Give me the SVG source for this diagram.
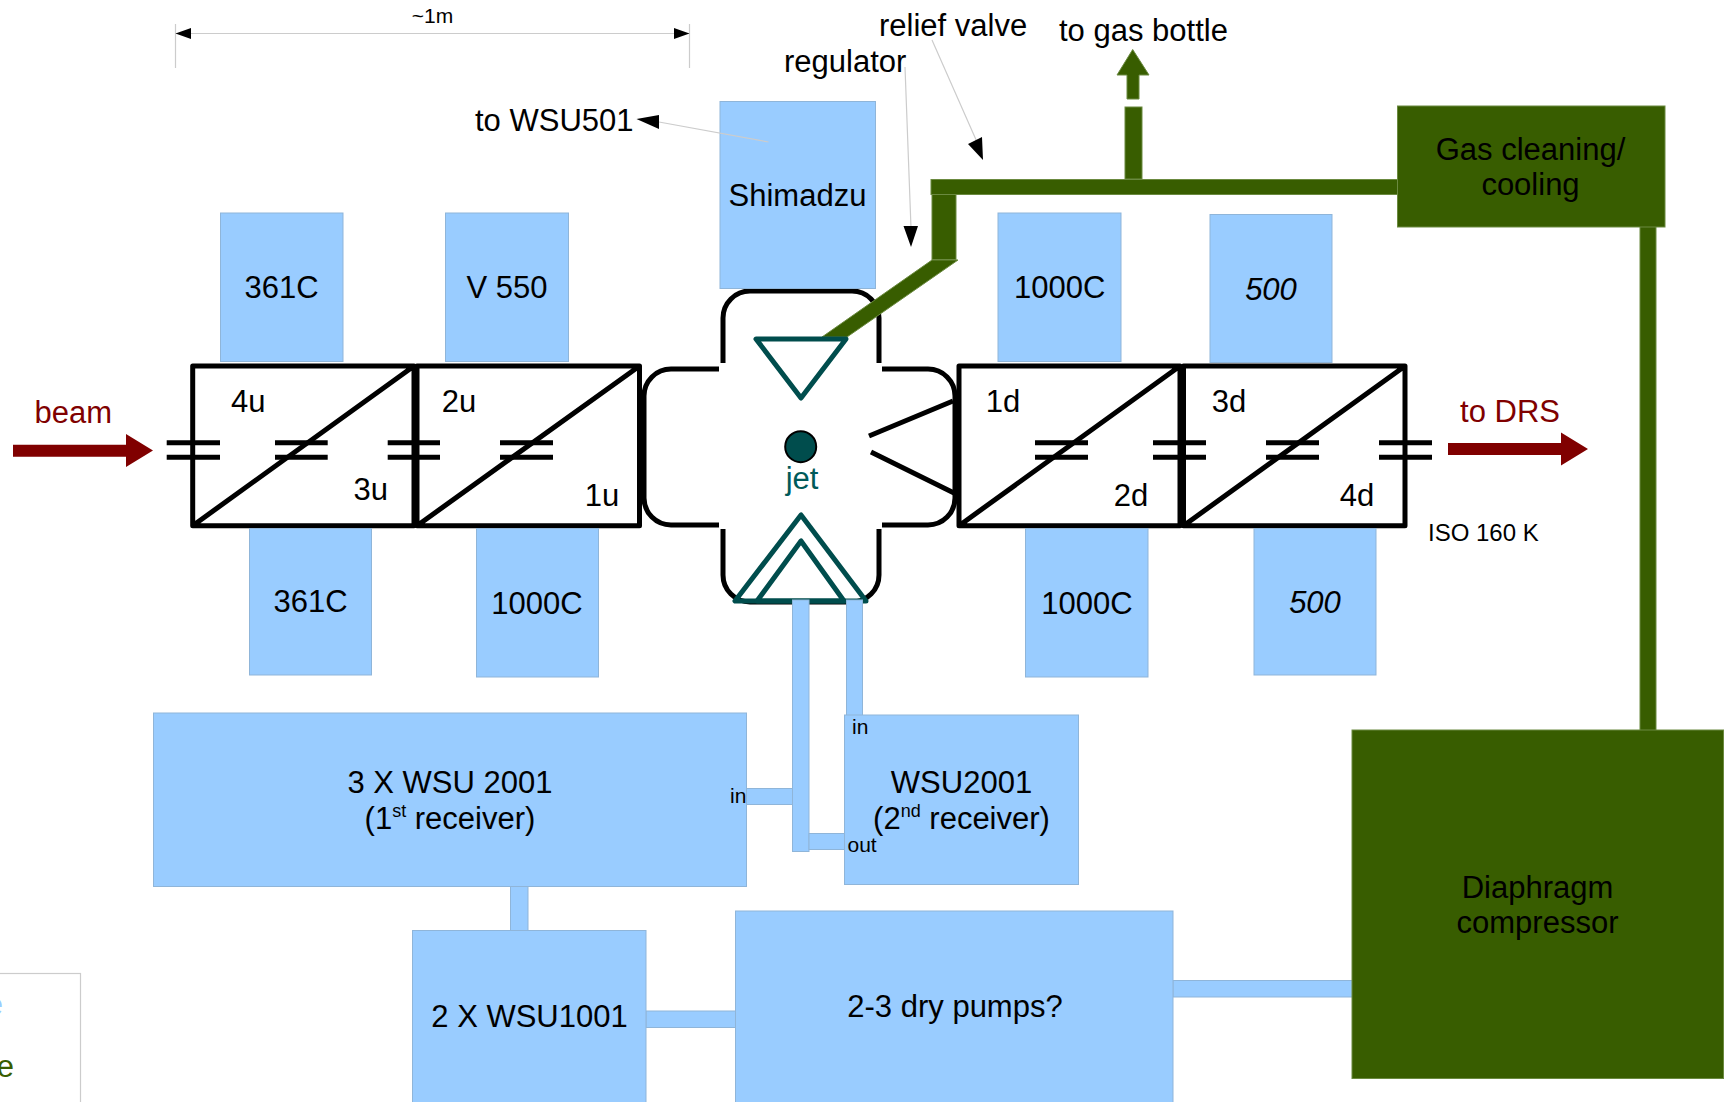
<svg xmlns="http://www.w3.org/2000/svg" width="1729" height="1102" viewBox="0 0 1729 1102">
<defs>
<style>
text{font-family:"Liberation Sans",Arial,sans-serif;font-size:31px;fill:#000}
.c{text-anchor:middle}
.s{font-size:21px}
.m{font-size:24px}
.i{font-style:italic}
.red{fill:#800000}
.blue{fill:#99ccff;stroke:#8fb5d9;stroke-width:1}
.green{fill:#385d00;stroke:#6b8a40;stroke-width:1}
.k{fill:none;stroke:#000;stroke-width:5;stroke-linejoin:round}
.t{fill:none;stroke:#004d4d;stroke-width:5;stroke-linejoin:round}
.g{fill:none;stroke:#ccc;stroke-width:1.2}
.h{fill:#000;stroke:none}
</style>
</defs>
<rect width="1729" height="1102" fill="#fff"/>
<g id="dimension">
<path class="g" d="M175.500 24V68M689.500 24V68M175.500 33.500H689.500"/>
<path class="h" d="M175.500 33.500L191 28V39ZM689.500 33.500L674 28V39Z"/>
<text class="s c" x="432.500" y="23">~1m</text>
</g>
<g id="dipoles">
<path class="k" d="M192.700 366H414V525.700H192.700ZM192.700 525.700L414 366"/>
<path class="k" d="M417 366H639.500V525.700H417ZM417 525.700L639.500 366"/>
<path class="k" d="M959 366H1180V525.700H959ZM959 525.700L1180 366"/>
<path class="k" d="M1183.500 366H1405V525.700H1183.500ZM1183.500 525.700L1405 366"/>
<path class="k" d="M166.700 442.700H220M166.700 457.300H220M275 442.700H327.700M275 457.300H327.700M387.700 442.700H440M387.700 457.300H440M500 442.700H553M500 457.300H553"/>
<path class="k" d="M1035 442.700H1088M1035 457.300H1088M1153 442.700H1206M1153 457.300H1206M1266 442.700H1319M1266 457.300H1319M1379 442.700H1432M1379 457.300H1432"/>
<text x="231" y="412">4u</text><text x="353.500" y="500">3u</text>
<text class="c" x="459" y="412">2u</text><text class="c" x="602" y="505.500">1u</text>
<text class="c" x="1003" y="412">1d</text><text class="c" x="1131" y="505.500">2d</text>
<text class="c" x="1229" y="412">3d</text><text class="c" x="1357" y="505.500">4d</text>
</g>
<g id="chamber">
<path class="k" d="M723 363V318A27 27 0 0 1 750 291H852A27 27 0 0 1 879 318V363"/>
<path class="k" d="M719 369H671A27 27 0 0 0 644 396V498A27 27 0 0 0 671 525H719"/>
<path class="k" d="M882 369H928A27 27 0 0 1 955 396V498A27 27 0 0 1 928 525H882"/>
<path class="k" d="M723 529V575A27 27 0 0 0 750 602H852A27 27 0 0 0 879 575V529"/>
<path class="k" d="M869 436L953 401M871 452L954 493"/>
<circle cx="800.700" cy="446.700" r="15.500" fill="#004d4d" stroke="#000" stroke-width="2"/>
<text class="c" x="802" y="489" style="fill:#005a5a">jet</text>
</g>
<g id="gas-lines">
<path class="green" d="M932 260H958L847 337H822Z"/>
<rect class="green" x="932" y="194" width="24" height="65.500"/>
<rect class="green" x="931" y="179.500" width="468" height="15"/>
<rect class="green" x="1125" y="107" width="17" height="72"/>
<path class="green" d="M1127 99V75H1117L1132.700 49.500L1149 75H1139V99Z"/>
<rect class="green" x="1640" y="226" width="16" height="505"/>
</g>
<g id="jet-nozzles">
<path class="t" d="M756 339H846L801 398Z"/>
<path class="t" d="M735 601H866L801 515Z"/>
<path class="t" d="M757 601H844L801 541Z"/>
</g>
<g id="connectors">
<rect class="blue" x="792.500" y="600" width="16.500" height="251.500"/>
<rect class="blue" x="846.500" y="600" width="16" height="116"/>
<rect class="blue" x="746.500" y="788.500" width="46" height="16"/>
<rect class="blue" x="809" y="833.500" width="36" height="16"/>
<rect class="blue" x="510.500" y="886" width="17.500" height="46"/>
<rect class="blue" x="646" y="1011" width="90" height="16.500"/>
<rect class="blue" x="1173" y="980.500" width="180" height="16.500"/>
</g>
<g id="box-361c-top"><rect class="blue" x="220.500" y="213" width="122.500" height="148.500"/><text class="c" x="281.500" y="298">361C</text></g>
<g id="box-v550"><rect class="blue" x="445.500" y="213" width="123" height="148.500"/><text class="c" x="507" y="298">V 550</text></g>
<g id="box-shimadzu"><rect class="blue" x="720" y="101.500" width="155.500" height="187"/><text class="c" x="797.500" y="206">Shimadzu</text></g>
<g id="leaders">
<path class="g" d="M905 67L911 228M932 40L977 142M768.500 142L659 122"/>
<path class="h" d="M911 247L903.500 226H918ZM983 160L968 144L982 137ZM636.500 119L659 115L659 129Z"/>
</g>
<g id="box-1000c-top"><rect class="blue" x="998" y="213" width="123" height="148.500"/><text class="c" x="1059.700" y="298">1000C</text></g>
<g id="box-500-top"><rect class="blue" x="1210" y="214.500" width="122" height="148"/><text class="c i" x="1271" y="300">500</text></g>
<g id="box-361c-bottom"><rect class="blue" x="249.500" y="528.500" width="122" height="146.500"/><text class="c" x="310.500" y="612">361C</text></g>
<g id="box-1000c-b1"><rect class="blue" x="476.500" y="528.500" width="122" height="148.500"/><text class="c" x="537" y="614">1000C</text></g>
<g id="box-1000c-b2"><rect class="blue" x="1025.500" y="528.500" width="122.500" height="148.500"/><text class="c" x="1087" y="614">1000C</text></g>
<g id="box-500-bottom"><rect class="blue" x="1254" y="528.500" width="122" height="146.500"/><text class="c i" x="1315" y="613">500</text></g>
<g id="beam-in"><path d="M13 444.700H126V434L153 450.500L126 467V456.700H13Z" fill="#800000"/><text class="red" x="34.500" y="423">beam</text></g>
<g id="beam-out"><path d="M1448 443H1561V432.500L1588 449L1561 465.500V455H1448Z" fill="#800000"/><text class="red c" x="1510" y="422">to DRS</text></g>
<g id="labels">
<text class="m" x="1428" y="541">ISO 160 K</text>
<text x="475" y="131">to WSU501</text>
<text x="784" y="72">regulator</text>
<text x="879" y="36">relief valve</text>
<text x="1059" y="41">to gas bottle</text>
</g>
<g id="gas-cleaning"><rect class="green" x="1397.500" y="106" width="267.500" height="121"/><text class="c" x="1530.500" y="160">Gas cleaning/</text><text class="c" x="1530.500" y="195">cooling</text></g>
<g id="compressor"><rect class="green" x="1352" y="730" width="371.500" height="348.500"/><text class="c" x="1537.500" y="898">Diaphragm</text><text class="c" x="1537.500" y="933">compressor</text></g>
<g id="wsu2001-3"><rect class="blue" x="153.500" y="713" width="593" height="173.500"/><text class="c" x="450" y="793">3 X WSU 2001</text><text class="c" x="450" y="829">(1<tspan dy="-12" font-size="18">st</tspan><tspan dy="12"> receiver)</tspan></text><text class="s" x="730" y="803">in</text></g>
<g id="wsu2001-1"><rect class="blue" x="844.500" y="715" width="234" height="169.500"/><text class="c" x="961.500" y="793">WSU2001</text><text class="c" x="961.500" y="829">(2<tspan dy="-12" font-size="18">nd</tspan><tspan dy="12"> receiver)</tspan></text><text class="s" x="852" y="734">in</text><text class="s" x="847.500" y="852">out</text></g>
<g id="wsu1001"><rect class="blue" x="412.500" y="930.500" width="233.500" height="180"/><text class="c" x="529.500" y="1027">2 X WSU1001</text></g>
<g id="dry-pumps"><rect class="blue" x="735.500" y="911" width="437.500" height="200"/><text class="c" x="955" y="1017">2-3 dry pumps?</text></g>
<g id="legend"><rect x="-20" y="973.500" width="100.500" height="150" fill="#fff" stroke="#ccc" stroke-width="1.200"/><text x="3" y="1015" text-anchor="end" style="fill:#99ccff">e</text><text x="14" y="1077" text-anchor="end" style="fill:#385d00">e</text></g>
</svg>
